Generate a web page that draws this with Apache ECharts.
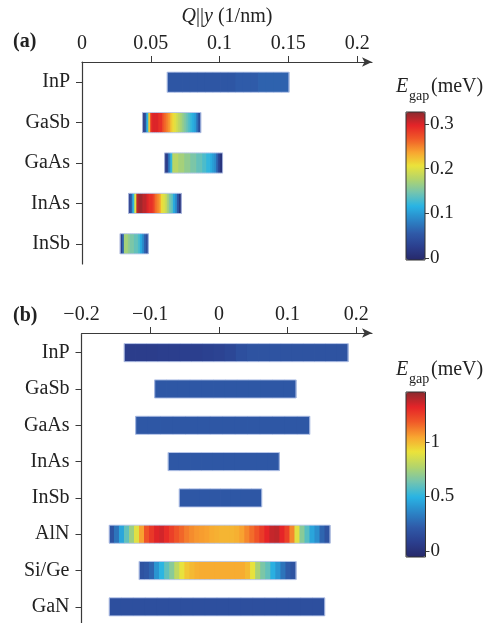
<!DOCTYPE html>
<html><head><meta charset="utf-8">
<script src="https://cdn.jsdelivr.net/npm/echarts@6/dist/echarts.min.js"></script>
<style>html,body{margin:0;padding:0;background:#fff}#c{width:499px;height:623px}</style>
</head><body><div id="c"></div>
<script>
const FONT = '"Liberation Serif","Times New Roman",serif';
const INK = '#222';
const AXC = '#3a3a3a';

// ---------- panel (a) ----------
const catsA = ['InP', 'GaSb', 'GaAs', 'InAs', 'InSb'];
const qStartA = [0.062, 0.0441, 0.0601, 0.0339, 0.0278];
const qEndA   = [0.1504, 0.0863, 0.1022, 0.0722, 0.0482];
const ticksA = [0, 0.05, 0.1, 0.15, 0.2];
const egapA_InP  = [0.05,0.05,0.05,0.05,0.05,0.05,0.05,0.05,0.05,0.055,0.055,0.055,0.06,0.06,0.06,0.06];
const egapA_GaSb = [0.01,0.05,0.12,0.22,0.29,0.3,0.3,0.3,0.29,0.29,0.27,0.26,0.25,0.24,0.22,0.21,0.2,0.19,0.18,0.17,0.16,0.15,0.14,0.13,0.12,0.11,0.1,0.07,0.04];
const egapA_GaAs = [0.01,0.03,0.08,0.12,0.18,0.18,0.18,0.17,0.17,0.17,0.16,0.16,0.16,0.15,0.15,0.15,0.14,0.14,0.14,0.13,0.13,0.12,0.12,0.11,0.1,0.09,0.06,0.03,0.01];
const egapA_InAs = [0.02,0.06,0.12,0.2,0.31,0.32,0.32,0.31,0.31,0.3,0.29,0.29,0.28,0.26,0.25,0.24,0.21,0.2,0.19,0.17,0.15,0.14,0.11,0.09,0.05,0.01];
const egapA_InSb = [0.02,0.06,0.17,0.17,0.16,0.15,0.15,0.14,0.14,0.13,0.11,0.09,0.06,0.04];
const cbTicksA = [0, 0.1, 0.2, 0.3];

// ---------- panel (b) ----------
const catsB = ['InP', 'GaSb', 'GaAs', 'InAs', 'InSb', 'AlN', 'Si/Ge', 'GaN'];
const qStartB = [-0.1377, -0.0934, -0.1211, -0.0737, -0.0576, -0.1595, -0.1159, -0.1595];
const qEndB   = [0.188, 0.1122, 0.1322, 0.0879, 0.0623, 0.1617, 0.1122, 0.154];
const ticksB = [-0.2, -0.1, 0, 0.1, 0.2];
const egapB_InP  = [0.07,0.07,0.07,0.075,0.075,0.08,0.08,0.09,0.1,0.12,0.16,0.18,0.18,0.18,0.18,0.18,0.18,0.18,0.18,0.18];
const egapB_GaSb = [0.2,0.2,0.2,0.2,0.2,0.2,0.2,0.2,0.2,0.2,0.2,0.2];
const egapB_GaAs = [0.2,0.2,0.2,0.2,0.2,0.2,0.2,0.2,0.2,0.2,0.2,0.2,0.2,0.2];
const egapB_InAs = [0.2,0.2,0.2,0.2,0.2,0.2,0.2,0.2,0.2,0.2];
const egapB_InSb = [0.2,0.2,0.2,0.2,0.2,0.2,0.2,0.2];
const egapB_AlN  = [0.18,0.3,0.45,0.6,0.72,0.88,1.05,1.2,1.27,1.33,1.35,1.3,1.25,1.2,1.16,1.12,1.09,1.07,1.06,1.05,1.03,1.02,1.01,1.01,1.01,1.02,1.05,1.1,1.15,1.2,1.26,1.32,1.37,1.38,1.32,1.25,1.1,0.88,0.68,0.58,0.45,0.38,0.25,0.18];
const egapB_SiGe = [0.18,0.2,0.25,0.4,0.5,0.6,0.68,0.8,0.9,0.97,1.0,1.02,1.03,1.03,1.03,1.03,1.03,1.03,1.03,1.03,1.03,1.0,0.9,0.75,0.65,0.6,0.48,0.4,0.3,0.22,0.18];
const egapB_GaN  = [0.16,0.16,0.16,0.16,0.16,0.16,0.16,0.16,0.16,0.16,0.16,0.16,0.16,0.16,0.16,0.16,0.16,0.16];
const cbTicksB = [0, 0.5, 1];

const palette = ['#27296a','#2b3f8e','#2f5ba9','#2b86c8','#29b4e4','#73c4b0','#b2d46c','#ebe33a','#f8a530','#f05a28','#e52428','#8b2a2f'];

const egapA = [egapA_InP, egapA_GaSb, egapA_GaAs, egapA_InAs, egapA_InSb];
const egapB = [egapB_InP, egapB_GaSb, egapB_GaAs, egapB_InAs, egapB_InSb, egapB_AlN, egapB_SiGe, egapB_GaN];

function segs(starts, ends, vals) {
  const out = [];
  vals.forEach((arr, i) => {
    const w = (ends[i] - starts[i]) / arr.length;
    arr.forEach((v, j) => out.push([starts[i] + j * w, starts[i] + (j + 1) * w, i, v]));
  });
  return out;
}
function outlines(starts, ends) { return starts.map((s, i) => [s, ends[i], i]); }

function renderSeg(params, api) {
  const a = api.coord([api.value(0), api.value(2)]);
  const b = api.coord([api.value(1), api.value(2)]);
  const h = api.size([0, 1])[1] * 0.5;
  return { type: 'rect', shape: { x: a[0] - 0.4, y: a[1] - h / 2, width: b[0] - a[0] + 0.8, height: h },
           style: { fill: api.visual('color') } };
}
function renderOutline(params, api) {
  const a = api.coord([api.value(0), api.value(2)]);
  const b = api.coord([api.value(1), api.value(2)]);
  const h = api.size([0, 1])[1] * 0.5;
  return { type: 'rect', shape: { x: a[0], y: a[1] - h / 2, width: b[0] - a[0], height: h },
           style: { fill: 'none', stroke: 'rgba(185,200,235,0.9)', lineWidth: 1 } };
}
const minusFmt = v => (v < 0 ? '\u2212' + Math.abs(v) : String(v));

const txt = { fontFamily: FONT, color: INK, fontSize: 20 };

function mainX(gi, min, max, ticks, offset, name) {
  return {
    type: 'value', gridIndex: gi, position: 'top', min: min, max: max, offset: offset,
    axisLine: { show: true, onZero: false, lineStyle: { color: AXC, width: 1.2 }, symbol: ['none', 'arrow'], symbolSize: [7, 10] },
    axisTick: { show: true, length: 6, lineStyle: { color: AXC, width: 1 }, customValues: ticks.slice(1) },
    axisLabel: Object.assign({ margin: 8, formatter: minusFmt, customValues: ticks }, txt),
    splitLine: { show: false },
    name: name || '', nameLocation: 'middle', nameGap: 35,
    nameTextStyle: Object.assign({ rich: { i: { fontFamily: FONT, fontSize: 20, fontStyle: 'italic', color: INK }, b: { fontFamily: FONT, fontSize: 20, color: INK } } }, txt)
  };
}
function mainY(gi, cats) {
  return {
    type: 'category', gridIndex: gi, data: cats, inverse: true,
    axisLine: { show: true, onZero: false, lineStyle: { color: AXC, width: 1.2 } },
    axisTick: { show: true, alignWithLabel: true, length: 6, lineStyle: { color: AXC } },
    axisLabel: Object.assign({ margin: 12 }, txt),
    splitLine: { show: false }
  };
}
function cbY(gi, min, max, ticks) {
  return {
    type: 'value', gridIndex: gi, position: 'right', min: min, max: max,
    axisLine: { show: false, onZero: false },
    axisTick: { show: true, length: 4, inside: false, lineStyle: { color: AXC }, customValues: ticks },
    axisLabel: { margin: 5, fontFamily: FONT, fontSize: 19, color: INK, customValues: ticks },
    splitLine: { show: false }
  };
}

const chart = echarts.init(document.getElementById('c'), null, { renderer: 'canvas' });
chart.setOption({
  animation: false,
  backgroundColor: '#fff',
  grid: [
    { left: 82, top: 62, width: 290, height: 202, outerBoundsMode: 'none', containLabel: false },
    { left: 81.5, top: 334.5, width: 290.5, height: 290.5, outerBoundsMode: 'none', containLabel: false },
    { left: 406, top: 112, width: 19, height: 148, show: true, z: 10, borderColor: '#333', borderWidth: 1, backgroundColor: 'transparent', outerBoundsMode: 'none' },
    { left: 406, top: 392, width: 19.5, height: 165, show: true, z: 10, borderColor: '#333', borderWidth: 1, backgroundColor: 'transparent', outerBoundsMode: 'none' }
  ],
  xAxis: [
    mainX(0, 0, 0.2108, ticksA, 0, '{i|Q}{b|||}{i|y} (1/nm)'),
    mainX(1, -0.2, 0.2229, ticksB, 1.5),
    { type: 'value', gridIndex: 2, show: false, min: 0, max: 1 },
    { type: 'value', gridIndex: 3, show: false, min: 0, max: 1 }
  ],
  yAxis: [
    mainY(0, catsA),
    mainY(1, catsB),
    cbY(2, -0.005, 0.327, cbTicksA),
    cbY(3, -0.057, 1.458, cbTicksB)
  ],
  visualMap: [
    { type: 'continuous', seriesIndex: [0], dimension: 3, min: -0.005, max: 0.327, calculable: false,
      left: 406, top: 112, itemWidth: 19, itemHeight: 148, padding: 0, text: null, showLabel: false,
      inRange: { color: palette }, hoverLink: false },
    { type: 'continuous', seriesIndex: [2], dimension: 3, min: -0.057, max: 1.458, calculable: false,
      left: 406, top: 392, itemWidth: 19.5, itemHeight: 165, padding: 0, text: null, showLabel: false,
      inRange: { color: palette }, hoverLink: false }
  ],
  series: [
    { type: 'custom', xAxisIndex: 0, yAxisIndex: 0, renderItem: renderSeg, encode: { x: [0, 1], y: 2 }, data: segs(qStartA, qEndA, egapA), z: 2 },
    { type: 'custom', xAxisIndex: 0, yAxisIndex: 0, renderItem: renderOutline, encode: { x: [0, 1], y: 2 }, data: outlines(qStartA, qEndA), z: 3, silent: true },
    { type: 'custom', xAxisIndex: 1, yAxisIndex: 1, renderItem: renderSeg, encode: { x: [0, 1], y: 2 }, data: segs(qStartB, qEndB, egapB), z: 2 },
    { type: 'custom', xAxisIndex: 1, yAxisIndex: 1, renderItem: renderOutline, encode: { x: [0, 1], y: 2 }, data: outlines(qStartB, qEndB), z: 3, silent: true }
  ],
  graphic: [
    { type: 'text', left: 13, top: 32, style: { text: '(a)', font: 'bold 20px ' + FONT, fill: INK } },
    { type: 'text', left: 13, top: 306, style: { text: '(b)', font: 'bold 20px ' + FONT, fill: INK } },
    { type: 'text', x: 396, y: 77, style: { text: 'E', font: 'italic 20px ' + FONT, fill: INK } },
    { type: 'text', x: 409, y: 89, style: { text: 'gap', font: '14px ' + FONT, fill: INK } },
    { type: 'text', x: 431, y: 77, style: { text: '(meV)', font: '20px ' + FONT, fill: INK } },
    { type: 'text', x: 396, y: 360, style: { text: 'E', font: 'italic 20px ' + FONT, fill: INK } },
    { type: 'text', x: 409, y: 372, style: { text: 'gap', font: '14px ' + FONT, fill: INK } },
    { type: 'text', x: 431, y: 360, style: { text: '(meV)', font: '20px ' + FONT, fill: INK } }
  ]
});
</script>
</body></html>
